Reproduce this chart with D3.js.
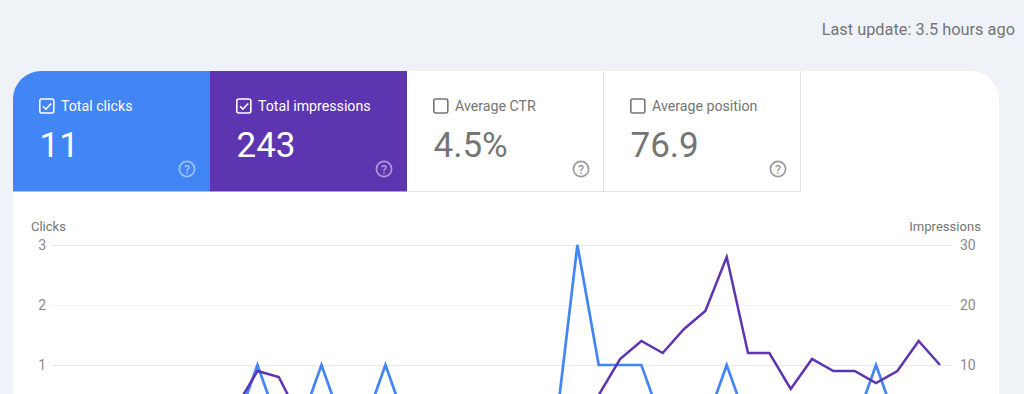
<!DOCTYPE html>
<html><head><meta charset="utf-8">
<script src="https://cdn.jsdelivr.net/npm/d3@7/dist/d3.min.js"></script>
<style>
html,body{margin:0;padding:0;width:1024px;height:394px;overflow:hidden;background:#eff3f8;}
svg{display:block;font-family:Roboto,sans-serif;}
</style></head><body>
<svg id="c" width="1024" height="394"></svg>
<script>
const updateLabel = "Last update: 3.5 hours ago";
const tileLabels = ["Total clicks","Total impressions","Average CTR","Average position"];
const tileValues = ["11","243","4.5%","76.9"];
const tileChecked = [true,true,false,false];
const tileFills = ["#4285f4","#5e35b1","#ffffff","#ffffff"];
const leftTicks = [1,2,3];
const rightTicks = [10,20,30];
const days = d3.range(42);
const clicks = [0,0,0,0,0,0,0,0,0,1,0,0,1,0,0,1,0,0,0,0,0,0,0,0,3,1,1,1,0,0,0,1,0,0,0,0,0,0,1,0,0,0];
const impressions = [1,1,1,1,0,1,1,1,3,9,8,1,1,1,1,2,1,1,1,0,1,1,0,0,1,5,11,14,12,16,19,28,12,12,6,11,9,9,7,9,14,10];

const svg = d3.select("#c");
const card = d3.path();
card.moveTo(13,394); card.lineTo(13,99); card.arcTo(13,71,41,71,28);
card.lineTo(971,71); card.arcTo(999,71,999,99,28); card.lineTo(999,394); card.closePath();
svg.append("path").attr("d",card.toString()).attr("fill","#fff");
svg.append("text").attr("x",1015).attr("y",35).attr("text-anchor","end")
  .attr("font-size",16.35).attr("fill","#757575").text(updateLabel);

const tileX = d3.scaleBand().domain(d3.range(4)).range([13,801]);
const tiles = svg.selectAll("g.tile").data(d3.range(4)).join("g").attr("class","tile")
  .attr("transform",i=>`translate(${tileX(i)},71)`);
tiles.each(function(i){
  const g = d3.select(this), w = tileX.bandwidth(), on = tileChecked[i];
  const fg = on ? "#fff" : "#757575";
  const h = on ? 120.5 : 120;
  if(i===0){
    const p = d3.path();
    p.moveTo(0,h); p.lineTo(0,28); p.arcTo(0,0,28,0,28); p.lineTo(w,0); p.lineTo(w,h); p.closePath();
    g.append("path").attr("d",p.toString()).attr("fill",tileFills[i]);
  } else {
    g.append("rect").attr("width",w).attr("height",h).attr("fill",tileFills[i]);
  }
  if(!on){
    g.append("line").attr("x1",0).attr("x2",w).attr("y1",120.5).attr("y2",120.5).attr("stroke","#e3e3e3");
    g.append("line").attr("x1",w-.5).attr("x2",w-.5).attr("y1",0).attr("y2",120).attr("stroke","#e3e3e3");
  }
  g.append("rect").attr("x",26.8).attr("y",28).attr("width",14).attr("height",14).attr("rx",2)
    .attr("fill","none").attr("stroke",fg).attr("stroke-width",1.6);
  if(on) g.append("path").attr("d","M30 35.2l2.9 2.9l5.4-5.6").attr("fill","none").attr("stroke",fg).attr("stroke-width",1.6);
  g.append("text").attr("x",48).attr("y",40).attr("font-size",14.2).attr("fill",fg).text(tileLabels[i]);
  g.append("text").attr("x",26.5).attr("y",86).attr("font-size",35).attr("fill",fg).text(tileValues[i]);
  const q = g.append("g").attr("transform","translate(174,98)").attr("opacity",on?0.5:1);
  q.append("circle").attr("r",7.6).attr("fill","none").attr("stroke",on?"#fff":"#9a9a9a").attr("stroke-width",1.7);
  q.append("text").attr("text-anchor","middle").attr("y",4.5).attr("font-size",12.5).attr("font-weight",500)
    .attr("fill",on?"#fff":"#9a9a9a").text("?");
});

const x = d3.scaleLinear().domain([0,41]).range([65.5,940]);
const yL = d3.scaleLinear().domain([0,3]).range([425,245]);
const yR = d3.scaleLinear().domain([0,30]).range([425,245]);
const grid = svg.append("g");
rightTicks.forEach((t,i)=>grid.append("line").attr("x1",52).attr("x2",952)
  .attr("y1",Math.round(yR(t))+.5).attr("y2",Math.round(yR(t))+.5)
  .attr("stroke",i===1?"#f3f3f3":"#e8e8e8"));

const axL = svg.append("g").attr("transform","translate(46,0)")
  .call(d3.axisLeft(yL).tickValues(leftTicks).tickFormat(d3.format("d")).tickSize(0).tickPadding(0));
const axR = svg.append("g").attr("transform","translate(960,0)")
  .call(d3.axisRight(yR).tickValues(rightTicks).tickFormat(d3.format("d")).tickSize(0).tickPadding(0));
[axL,axR].forEach(a=>{a.select(".domain").remove();
  a.selectAll("text").attr("font-family","Roboto,sans-serif").attr("font-size",14).attr("fill","#8a8a8a");});
svg.append("text").attr("x",31).attr("y",231).attr("font-size",13).attr("fill","#757575").text("Clicks");
svg.append("text").attr("x",981).attr("y",231).attr("text-anchor","end").attr("font-size",13.1).attr("fill","#757575").text("Impressions");

const line = y => d3.line().x((d,i)=>x(days[i])).y(d=>y(d));
svg.append("path").attr("d",line(yL)(clicks)).attr("fill","none").attr("stroke","#4285f4").attr("stroke-width",2.7);
svg.append("path").attr("d",line(yR)(impressions)).attr("fill","none").attr("stroke","#5e35b1").attr("stroke-width",2.5);
</script>
</body></html>
